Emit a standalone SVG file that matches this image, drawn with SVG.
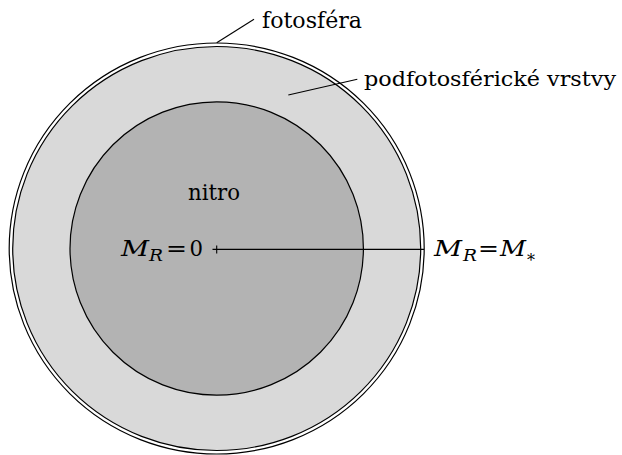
<svg xmlns="http://www.w3.org/2000/svg" width="622" height="455" viewBox="0 0 622 455">
<style>
text{font-family:'DejaVu Serif','Liberation Serif',Tinos,'Times New Roman',serif;font-size:23px;fill:#000}
.i{font-style:italic}
.s{font-size:17px}
.sm{font-size:21px}
.ln{stroke:#000;stroke-width:1.1;fill:none}
</style>
<rect x="0" y="0" width="622" height="455" fill="#fff"/>
<g id="photosphere">
<ellipse cx="216.7" cy="248.5" rx="207.5" ry="205.5" fill="#fff" stroke="#000" stroke-width="1.2"/>
<ellipse cx="216.7" cy="248.5" rx="204" ry="202" fill="#d9d9d9" stroke="#000" stroke-width="1.2"/>
</g>
<g id="core">
<circle cx="216.7" cy="248.5" r="146.7" fill="#b3b3b3" stroke="#000" stroke-width="1.2"/>
<text x="188" y="200" textLength="52" lengthAdjust="spacingAndGlyphs">nitro</text>
</g>
<g id="connectors">
<line class="ln" x1="216.7" y1="42.7" x2="254" y2="19.3"/>
<line class="ln" x1="288.3" y1="95" x2="357.3" y2="79.3"/>
<line class="ln" x1="212.5" y1="249.4" x2="424" y2="249.4"/>
<line class="ln" x1="216.7" y1="245.5" x2="216.7" y2="253.5"/>
</g>
<g id="label-fotosfera">
<text x="262" y="28" textLength="100" lengthAdjust="spacingAndGlyphs">fotosféra</text>
</g>
<g id="label-podfotosfericke">
<text class="sm" x="364" y="86" textLength="252" lengthAdjust="spacingAndGlyphs">podfotosférické vrstvy</text>
</g>
<g id="label-center">
<text class="i" x="121" y="256" textLength="28" lengthAdjust="spacingAndGlyphs">M</text>
<text class="i s" x="149" y="261" textLength="14" lengthAdjust="spacingAndGlyphs">R</text>
<text x="166" y="256" textLength="21" lengthAdjust="spacingAndGlyphs">=</text>
<text x="189.5" y="256" textLength="13.5" lengthAdjust="spacingAndGlyphs">0</text>
</g>
<g id="label-surface">
<text class="i" x="434" y="256" textLength="28" lengthAdjust="spacingAndGlyphs">M</text>
<text class="i s" x="463" y="261" textLength="14" lengthAdjust="spacingAndGlyphs">R</text>
<text x="478" y="256" textLength="21" lengthAdjust="spacingAndGlyphs">=</text>
<text class="i" x="500" y="256" textLength="26" lengthAdjust="spacingAndGlyphs">M</text>
<text class="s" x="527" y="266" textLength="8" lengthAdjust="spacingAndGlyphs">*</text>
</g>
</svg>
